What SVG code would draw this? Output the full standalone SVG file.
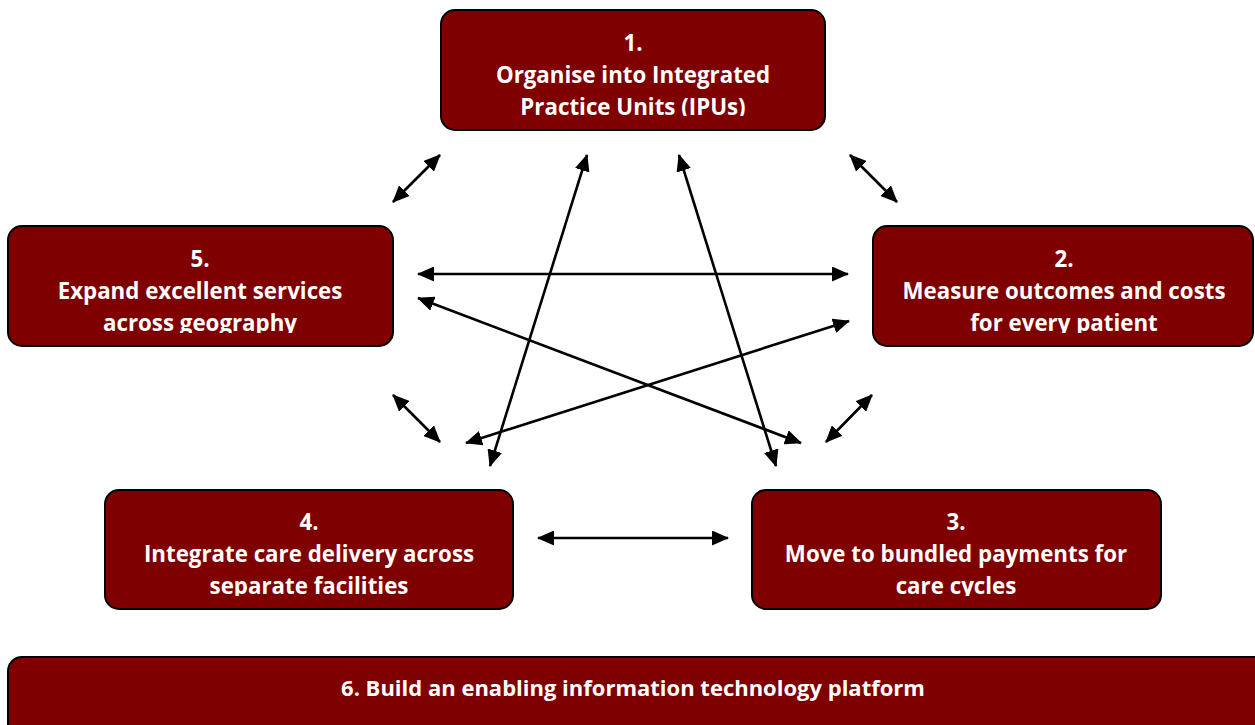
<svg xmlns="http://www.w3.org/2000/svg" width="1255" height="725" viewBox="0 0 1255 725">
<style>
.box{fill:#7f0000;stroke:#000;stroke-width:2}
.t{font-family:"Open Sans","Noto Sans","Liberation Sans",sans-serif;font-weight:700;font-size:22.3px;fill:#fff;text-anchor:middle}
.c{stroke:#000;stroke-width:2.6;fill:none;marker-start:url(#ah);marker-end:url(#ah)}
</style>
<defs>
<marker id="ah" markerUnits="userSpaceOnUse" markerWidth="17" markerHeight="15" viewBox="0 0 17 15" refX="16" refY="7.5" orient="auto-start-reverse">
<path d="M0,0 L17,7.5 L0,15 z" fill="#000"/>
</marker>
<clipPath id="c1"><rect x="441" y="10" width="384" height="106"/></clipPath>
<clipPath id="c2"><rect x="873" y="226" width="380" height="107"/></clipPath>
<clipPath id="c5"><rect x="8" y="226" width="385" height="107"/></clipPath>
<clipPath id="c4"><rect x="105" y="490" width="408" height="106"/></clipPath>
<clipPath id="c3"><rect x="752" y="490" width="409" height="106"/></clipPath>
</defs>
<g id="connectors">
<line class="c" x1="440" y1="155" x2="393" y2="202"/>
<line class="c" x1="850" y1="155" x2="897" y2="202"/>
<line class="c" x1="418" y1="274" x2="848" y2="274"/>
<line class="c" x1="418" y1="298" x2="801" y2="443"/>
<line class="c" x1="849" y1="321" x2="466" y2="443"/>
<line class="c" x1="587" y1="155" x2="490" y2="466"/>
<line class="c" x1="679" y1="155" x2="776" y2="466"/>
<line class="c" x1="393" y1="395" x2="440" y2="442"/>
<line class="c" x1="872" y1="395" x2="826" y2="442"/>
<line class="c" x1="538" y1="538" x2="728" y2="538"/>
</g>
<g id="node1">
<rect class="box" x="441" y="10" width="384" height="120" rx="14"/>
<text class="t" clip-path="url(#c1)"><tspan x="633" y="51">1.</tspan><tspan x="633" y="83">Organise into Integrated</tspan><tspan x="633" y="115">Practice Units (IPUs)</tspan></text>
</g>
<g id="node2">
<rect class="box" x="873" y="226" width="380" height="120" rx="14"/>
<text class="t" clip-path="url(#c2)"><tspan x="1064" y="267">2.</tspan><tspan x="1064" y="299">Measure outcomes and costs</tspan><tspan x="1064" y="331">for every patient</tspan></text>
</g>
<g id="node5">
<rect class="box" x="8" y="226" width="385" height="120" rx="14"/>
<text class="t" clip-path="url(#c5)"><tspan x="200" y="267">5.</tspan><tspan x="200" y="299">Expand excellent services</tspan><tspan x="200" y="331">across geography</tspan></text>
</g>
<g id="node4">
<rect class="box" x="105" y="490" width="408" height="119" rx="14"/>
<text class="t" clip-path="url(#c4)"><tspan x="309" y="530">4.</tspan><tspan x="309" y="562">Integrate care delivery across</tspan><tspan x="309" y="594">separate facilities</tspan></text>
</g>
<g id="node3">
<rect class="box" x="752" y="490" width="409" height="119" rx="14"/>
<text class="t" clip-path="url(#c3)"><tspan x="956" y="530">3.</tspan><tspan x="956" y="562">Move to bundled payments for</tspan><tspan x="956" y="594">care cycles</tspan></text>
</g>
<g id="node6">
<rect class="box" x="8" y="657" width="1260" height="90" rx="14"/>
<text class="t" x="633" y="696" style="font-size:22px">6. Build an enabling information technology platform</text>
</g>
</svg>
